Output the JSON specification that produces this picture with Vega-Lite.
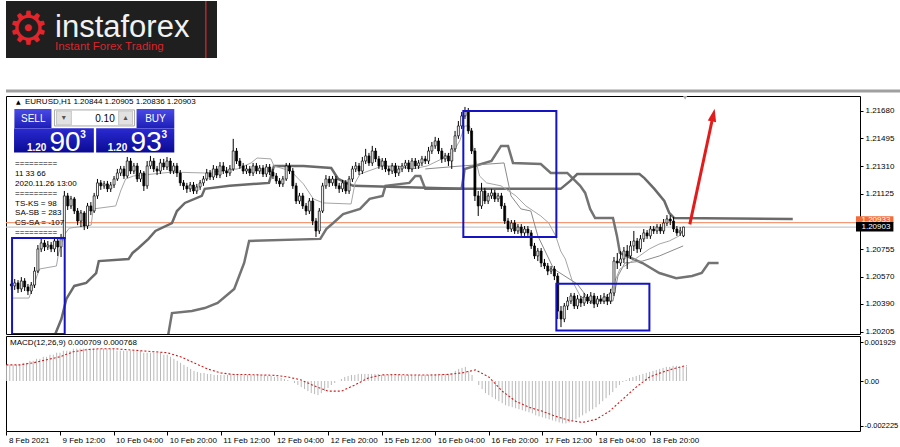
{
"$schema":"https://vega.github.io/schema/vega-lite/v6.json",
"padding":{"left":4,"top":0,"right":0,"bottom":0},
"background":"white",
"spacing":2,
"bounds":"flush",
"config":{"font":"Liberation Sans","view":{"stroke":"black","strokeWidth":1},"axis":{"grid":false,"domain":false,"labelFont":"Liberation Sans","labelFontSize":8,"labelColor":"black","tickColor":"black","labelOverlap":false,"labelFlush":false,"labelBound":false}},
"datasets":{
"candles":[
{"i":-16,"o":1.20523,"h":1.20549,"l":1.20483,"c":1.20510},
{"i":-15,"o":1.20510,"h":1.20556,"l":1.20483,"c":1.20530},
{"i":-14,"o":1.20530,"h":1.20549,"l":1.20463,"c":1.20490},
{"i":-13,"o":1.20490,"h":1.20569,"l":1.20469,"c":1.20543},
{"i":-12,"o":1.20543,"h":1.20562,"l":1.20476,"c":1.20503},
{"i":-11,"o":1.20503,"h":1.20523,"l":1.20449,"c":1.20476},
{"i":-10,"o":1.20476,"h":1.20536,"l":1.20456,"c":1.20516},
{"i":-9,"o":1.20516,"h":1.20636,"l":1.20496,"c":1.20609},
{"i":-8,"o":1.20609,"h":1.20783,"l":1.20596,"c":1.20757},
{"i":-7,"o":1.20757,"h":1.20824,"l":1.20736,"c":1.20797},
{"i":-6,"o":1.20797,"h":1.20817,"l":1.20743,"c":1.20770},
{"i":-5,"o":1.20770,"h":1.20810,"l":1.20750,"c":1.20783},
{"i":-4,"o":1.20783,"h":1.20803,"l":1.20736,"c":1.20757},
{"i":-3,"o":1.20757,"h":1.20837,"l":1.20736,"c":1.20810},
{"i":-2,"o":1.20810,"h":1.20830,"l":1.20710,"c":1.20770},
{"i":-1,"o":1.20770,"h":1.20857,"l":1.20703,"c":1.20824},
{"i":0,"o":1.20824,"h":1.21144,"l":1.20810,"c":1.21111},
{"i":1,"o":1.21111,"h":1.21131,"l":1.21017,"c":1.21044},
{"i":2,"o":1.21044,"h":1.21111,"l":1.21024,"c":1.21091},
{"i":3,"o":1.21091,"h":1.21104,"l":1.20990,"c":1.21010},
{"i":4,"o":1.21010,"h":1.21030,"l":1.20916,"c":1.20943},
{"i":5,"o":1.20943,"h":1.21017,"l":1.20903,"c":1.20997},
{"i":6,"o":1.20997,"h":1.21010,"l":1.20883,"c":1.20910},
{"i":7,"o":1.20910,"h":1.21064,"l":1.20890,"c":1.21044},
{"i":8,"o":1.21044,"h":1.21070,"l":1.20983,"c":1.21010},
{"i":9,"o":1.21010,"h":1.21131,"l":1.20997,"c":1.21111},
{"i":10,"o":1.21111,"h":1.21224,"l":1.21091,"c":1.21198},
{"i":11,"o":1.21198,"h":1.21217,"l":1.21151,"c":1.21178},
{"i":12,"o":1.21178,"h":1.21211,"l":1.21158,"c":1.21191},
{"i":13,"o":1.21191,"h":1.21211,"l":1.21137,"c":1.21158},
{"i":14,"o":1.21158,"h":1.21204,"l":1.21137,"c":1.21184},
{"i":15,"o":1.21184,"h":1.21244,"l":1.21164,"c":1.21224},
{"i":16,"o":1.21224,"h":1.21291,"l":1.21211,"c":1.21264},
{"i":17,"o":1.21264,"h":1.21311,"l":1.21244,"c":1.21291},
{"i":18,"o":1.21291,"h":1.21311,"l":1.21224,"c":1.21244},
{"i":19,"o":1.21244,"h":1.21371,"l":1.21230,"c":1.21344},
{"i":20,"o":1.21344,"h":1.21364,"l":1.21257,"c":1.21277},
{"i":21,"o":1.21277,"h":1.21331,"l":1.21257,"c":1.21311},
{"i":22,"o":1.21311,"h":1.21331,"l":1.21204,"c":1.21224},
{"i":23,"o":1.21224,"h":1.21284,"l":1.21204,"c":1.21264},
{"i":24,"o":1.21264,"h":1.21277,"l":1.21144,"c":1.21178},
{"i":25,"o":1.21178,"h":1.21344,"l":1.21158,"c":1.21311},
{"i":26,"o":1.21311,"h":1.21378,"l":1.21291,"c":1.21344},
{"i":27,"o":1.21344,"h":1.21364,"l":1.21270,"c":1.21291},
{"i":28,"o":1.21291,"h":1.21311,"l":1.21250,"c":1.21277},
{"i":29,"o":1.21277,"h":1.21358,"l":1.21257,"c":1.21331},
{"i":30,"o":1.21331,"h":1.21358,"l":1.21284,"c":1.21304},
{"i":31,"o":1.21304,"h":1.21371,"l":1.21284,"c":1.21344},
{"i":32,"o":1.21344,"h":1.21364,"l":1.21257,"c":1.21277},
{"i":33,"o":1.21277,"h":1.21331,"l":1.21257,"c":1.21311},
{"i":34,"o":1.21311,"h":1.21331,"l":1.21237,"c":1.21264},
{"i":35,"o":1.21264,"h":1.21284,"l":1.21178,"c":1.21198},
{"i":36,"o":1.21198,"h":1.21217,"l":1.21151,"c":1.21178},
{"i":37,"o":1.21178,"h":1.21198,"l":1.21131,"c":1.21158},
{"i":38,"o":1.21158,"h":1.21204,"l":1.21137,"c":1.21184},
{"i":39,"o":1.21184,"h":1.21204,"l":1.21124,"c":1.21144},
{"i":40,"o":1.21144,"h":1.21191,"l":1.21124,"c":1.21171},
{"i":41,"o":1.21171,"h":1.21217,"l":1.21151,"c":1.21198},
{"i":42,"o":1.21198,"h":1.21244,"l":1.21178,"c":1.21224},
{"i":43,"o":1.21224,"h":1.21291,"l":1.21211,"c":1.21264},
{"i":44,"o":1.21264,"h":1.21284,"l":1.21217,"c":1.21237},
{"i":45,"o":1.21237,"h":1.21317,"l":1.21217,"c":1.21291},
{"i":46,"o":1.21291,"h":1.21311,"l":1.21230,"c":1.21250},
{"i":47,"o":1.21250,"h":1.21337,"l":1.21230,"c":1.21311},
{"i":48,"o":1.21311,"h":1.21337,"l":1.21257,"c":1.21277},
{"i":49,"o":1.21277,"h":1.21304,"l":1.21237,"c":1.21264},
{"i":50,"o":1.21264,"h":1.21317,"l":1.21244,"c":1.21291},
{"i":51,"o":1.21291,"h":1.21492,"l":1.21277,"c":1.21411},
{"i":52,"o":1.21411,"h":1.21431,"l":1.21324,"c":1.21344},
{"i":53,"o":1.21344,"h":1.21364,"l":1.21291,"c":1.21311},
{"i":54,"o":1.21311,"h":1.21331,"l":1.21257,"c":1.21277},
{"i":55,"o":1.21277,"h":1.21317,"l":1.21257,"c":1.21291},
{"i":56,"o":1.21291,"h":1.21311,"l":1.21244,"c":1.21264},
{"i":57,"o":1.21264,"h":1.21331,"l":1.21244,"c":1.21311},
{"i":58,"o":1.21311,"h":1.21331,"l":1.21257,"c":1.21277},
{"i":59,"o":1.21277,"h":1.21317,"l":1.21257,"c":1.21297},
{"i":60,"o":1.21297,"h":1.21317,"l":1.21237,"c":1.21257},
{"i":61,"o":1.21257,"h":1.21324,"l":1.21237,"c":1.21304},
{"i":62,"o":1.21304,"h":1.21324,"l":1.21250,"c":1.21270},
{"i":63,"o":1.21270,"h":1.21291,"l":1.21224,"c":1.21244},
{"i":64,"o":1.21244,"h":1.21264,"l":1.21191,"c":1.21211},
{"i":65,"o":1.21211,"h":1.21230,"l":1.21171,"c":1.21191},
{"i":66,"o":1.21191,"h":1.21244,"l":1.21171,"c":1.21224},
{"i":67,"o":1.21224,"h":1.21331,"l":1.21211,"c":1.21311},
{"i":68,"o":1.21311,"h":1.21331,"l":1.21257,"c":1.21277},
{"i":69,"o":1.21277,"h":1.21297,"l":1.21158,"c":1.21178},
{"i":70,"o":1.21178,"h":1.21198,"l":1.21057,"c":1.21077},
{"i":71,"o":1.21077,"h":1.21131,"l":1.21057,"c":1.21111},
{"i":72,"o":1.21111,"h":1.21131,"l":1.21024,"c":1.21044},
{"i":73,"o":1.21044,"h":1.21064,"l":1.20983,"c":1.21010},
{"i":74,"o":1.21010,"h":1.21097,"l":1.20990,"c":1.21077},
{"i":75,"o":1.21077,"h":1.21097,"l":1.20916,"c":1.20943},
{"i":76,"o":1.20943,"h":1.20963,"l":1.20837,"c":1.20877},
{"i":77,"o":1.20877,"h":1.21030,"l":1.20857,"c":1.21010},
{"i":78,"o":1.21010,"h":1.21198,"l":1.20997,"c":1.21178},
{"i":79,"o":1.21178,"h":1.21250,"l":1.21158,"c":1.21224},
{"i":80,"o":1.21224,"h":1.21244,"l":1.21171,"c":1.21198},
{"i":81,"o":1.21198,"h":1.21244,"l":1.21178,"c":1.21224},
{"i":82,"o":1.21224,"h":1.21244,"l":1.21158,"c":1.21178},
{"i":83,"o":1.21178,"h":1.21198,"l":1.21131,"c":1.21158},
{"i":84,"o":1.21158,"h":1.21217,"l":1.21137,"c":1.21198},
{"i":85,"o":1.21198,"h":1.21217,"l":1.21124,"c":1.21144},
{"i":86,"o":1.21144,"h":1.21244,"l":1.21124,"c":1.21224},
{"i":87,"o":1.21224,"h":1.21311,"l":1.21204,"c":1.21291},
{"i":88,"o":1.21291,"h":1.21337,"l":1.21270,"c":1.21311},
{"i":89,"o":1.21311,"h":1.21331,"l":1.21250,"c":1.21277},
{"i":90,"o":1.21277,"h":1.21371,"l":1.21257,"c":1.21344},
{"i":91,"o":1.21344,"h":1.21425,"l":1.21324,"c":1.21378},
{"i":92,"o":1.21378,"h":1.21398,"l":1.21311,"c":1.21331},
{"i":93,"o":1.21331,"h":1.21445,"l":1.21311,"c":1.21411},
{"i":94,"o":1.21411,"h":1.21431,"l":1.21337,"c":1.21358},
{"i":95,"o":1.21358,"h":1.21378,"l":1.21291,"c":1.21311},
{"i":96,"o":1.21311,"h":1.21364,"l":1.21284,"c":1.21344},
{"i":97,"o":1.21344,"h":1.21364,"l":1.21270,"c":1.21291},
{"i":98,"o":1.21291,"h":1.21311,"l":1.21250,"c":1.21277},
{"i":99,"o":1.21277,"h":1.21331,"l":1.21257,"c":1.21311},
{"i":100,"o":1.21311,"h":1.21331,"l":1.21237,"c":1.21264},
{"i":101,"o":1.21264,"h":1.21311,"l":1.21244,"c":1.21291},
{"i":102,"o":1.21291,"h":1.21331,"l":1.21270,"c":1.21311},
{"i":103,"o":1.21311,"h":1.21351,"l":1.21291,"c":1.21331},
{"i":104,"o":1.21331,"h":1.21351,"l":1.21270,"c":1.21291},
{"i":105,"o":1.21291,"h":1.21364,"l":1.21270,"c":1.21344},
{"i":106,"o":1.21344,"h":1.21364,"l":1.21291,"c":1.21311},
{"i":107,"o":1.21311,"h":1.21351,"l":1.21291,"c":1.21331},
{"i":108,"o":1.21331,"h":1.21378,"l":1.21311,"c":1.21358},
{"i":109,"o":1.21358,"h":1.21378,"l":1.21324,"c":1.21344},
{"i":110,"o":1.21344,"h":1.21438,"l":1.21324,"c":1.21411},
{"i":111,"o":1.21411,"h":1.21471,"l":1.21391,"c":1.21445},
{"i":112,"o":1.21445,"h":1.21505,"l":1.21425,"c":1.21478},
{"i":113,"o":1.21478,"h":1.21498,"l":1.21391,"c":1.21411},
{"i":114,"o":1.21411,"h":1.21431,"l":1.21331,"c":1.21358},
{"i":115,"o":1.21358,"h":1.21398,"l":1.21337,"c":1.21378},
{"i":116,"o":1.21378,"h":1.21398,"l":1.21311,"c":1.21344},
{"i":117,"o":1.21344,"h":1.21451,"l":1.21291,"c":1.21425},
{"i":118,"o":1.21425,"h":1.21545,"l":1.21404,"c":1.21512},
{"i":119,"o":1.21512,"h":1.21611,"l":1.21492,"c":1.21578},
{"i":120,"o":1.21578,"h":1.21671,"l":1.21558,"c":1.21645},
{"i":121,"o":1.21645,"h":1.21705,"l":1.21625,"c":1.21678},
{"i":122,"o":1.21678,"h":1.21698,"l":1.21525,"c":1.21545},
{"i":123,"o":1.21545,"h":1.21564,"l":1.21391,"c":1.21411},
{"i":124,"o":1.21411,"h":1.21431,"l":1.21077,"c":1.21111},
{"i":125,"o":1.21111,"h":1.21144,"l":1.20977,"c":1.21044},
{"i":126,"o":1.21044,"h":1.21198,"l":1.21024,"c":1.21144},
{"i":127,"o":1.21144,"h":1.21164,"l":1.21057,"c":1.21077},
{"i":128,"o":1.21077,"h":1.21131,"l":1.21057,"c":1.21111},
{"i":129,"o":1.21111,"h":1.21158,"l":1.21091,"c":1.21131},
{"i":130,"o":1.21131,"h":1.21151,"l":1.21070,"c":1.21091},
{"i":131,"o":1.21091,"h":1.21131,"l":1.21070,"c":1.21111},
{"i":132,"o":1.21111,"h":1.21131,"l":1.21024,"c":1.21044},
{"i":133,"o":1.21044,"h":1.21064,"l":1.20923,"c":1.20943},
{"i":134,"o":1.20943,"h":1.20963,"l":1.20870,"c":1.20890},
{"i":135,"o":1.20890,"h":1.20950,"l":1.20870,"c":1.20930},
{"i":136,"o":1.20930,"h":1.20950,"l":1.20857,"c":1.20877},
{"i":137,"o":1.20877,"h":1.20923,"l":1.20857,"c":1.20903},
{"i":138,"o":1.20903,"h":1.20923,"l":1.20844,"c":1.20864},
{"i":139,"o":1.20864,"h":1.20910,"l":1.20844,"c":1.20890},
{"i":140,"o":1.20890,"h":1.20910,"l":1.20844,"c":1.20864},
{"i":141,"o":1.20864,"h":1.20883,"l":1.20757,"c":1.20777},
{"i":142,"o":1.20777,"h":1.20797,"l":1.20690,"c":1.20710},
{"i":143,"o":1.20710,"h":1.20763,"l":1.20676,"c":1.20743},
{"i":144,"o":1.20743,"h":1.20763,"l":1.20636,"c":1.20663},
{"i":145,"o":1.20663,"h":1.20690,"l":1.20623,"c":1.20643},
{"i":146,"o":1.20643,"h":1.20663,"l":1.20582,"c":1.20609},
{"i":147,"o":1.20609,"h":1.20643,"l":1.20589,"c":1.20623},
{"i":148,"o":1.20623,"h":1.20643,"l":1.20549,"c":1.20576},
{"i":149,"o":1.20576,"h":1.20596,"l":1.20289,"c":1.20342},
{"i":150,"o":1.20342,"h":1.20376,"l":1.20235,"c":1.20289},
{"i":151,"o":1.20289,"h":1.20396,"l":1.20268,"c":1.20376},
{"i":152,"o":1.20376,"h":1.20436,"l":1.20349,"c":1.20409},
{"i":153,"o":1.20409,"h":1.20463,"l":1.20389,"c":1.20443},
{"i":154,"o":1.20443,"h":1.20463,"l":1.20356,"c":1.20376},
{"i":155,"o":1.20376,"h":1.20449,"l":1.20356,"c":1.20423},
{"i":156,"o":1.20423,"h":1.20443,"l":1.20369,"c":1.20396},
{"i":157,"o":1.20396,"h":1.20463,"l":1.20376,"c":1.20436},
{"i":158,"o":1.20436,"h":1.20456,"l":1.20389,"c":1.20409},
{"i":159,"o":1.20409,"h":1.20469,"l":1.20389,"c":1.20443},
{"i":160,"o":1.20443,"h":1.20463,"l":1.20362,"c":1.20389},
{"i":161,"o":1.20389,"h":1.20443,"l":1.20369,"c":1.20423},
{"i":162,"o":1.20423,"h":1.20449,"l":1.20389,"c":1.20409},
{"i":163,"o":1.20409,"h":1.20463,"l":1.20389,"c":1.20436},
{"i":164,"o":1.20436,"h":1.20456,"l":1.20382,"c":1.20409},
{"i":165,"o":1.20409,"h":1.20490,"l":1.20389,"c":1.20463},
{"i":166,"o":1.20463,"h":1.20703,"l":1.20443,"c":1.20676},
{"i":167,"o":1.20676,"h":1.20730,"l":1.20623,"c":1.20663},
{"i":168,"o":1.20663,"h":1.20743,"l":1.20643,"c":1.20690},
{"i":169,"o":1.20690,"h":1.20770,"l":1.20663,"c":1.20743},
{"i":170,"o":1.20743,"h":1.20783,"l":1.20623,"c":1.20710},
{"i":171,"o":1.20710,"h":1.20810,"l":1.20690,"c":1.20777},
{"i":172,"o":1.20777,"h":1.20877,"l":1.20743,"c":1.20810},
{"i":173,"o":1.20810,"h":1.20830,"l":1.20730,"c":1.20757},
{"i":174,"o":1.20757,"h":1.20850,"l":1.20736,"c":1.20824},
{"i":175,"o":1.20824,"h":1.20890,"l":1.20803,"c":1.20864},
{"i":176,"o":1.20864,"h":1.20883,"l":1.20824,"c":1.20844},
{"i":177,"o":1.20844,"h":1.20910,"l":1.20824,"c":1.20890},
{"i":178,"o":1.20890,"h":1.20910,"l":1.20857,"c":1.20877},
{"i":179,"o":1.20877,"h":1.20923,"l":1.20857,"c":1.20903},
{"i":180,"o":1.20903,"h":1.20923,"l":1.20857,"c":1.20877},
{"i":181,"o":1.20877,"h":1.20957,"l":1.20857,"c":1.20930},
{"i":182,"o":1.20930,"h":1.20983,"l":1.20910,"c":1.20957},
{"i":183,"o":1.20957,"h":1.20983,"l":1.20916,"c":1.20943},
{"i":184,"o":1.20943,"h":1.20970,"l":1.20870,"c":1.20890},
{"i":185,"o":1.20890,"h":1.20910,"l":1.20844,"c":1.20864},
{"i":186,"o":1.20864,"h":1.20903,"l":1.20844,"c":1.20877},
{"i":187,"o":1.20844,"h":1.20905,"l":1.20836,"c":1.20903}
],
"lines":[
{"s":"tenkan","i":-15.8,"p":1.20429},{"s":"tenkan","i":-10.7,"p":1.20429},{"s":"tenkan","i":-7.5,"p":1.20623},{"s":"tenkan","i":-2.4,"p":1.20643},{"s":"tenkan","i":-1.8,"p":1.20723},{"s":"tenkan","i":-0.3,"p":1.20844},{"s":"tenkan","i":1.5,"p":1.20896},{"s":"tenkan","i":8.1,"p":1.20916},{"s":"tenkan","i":8.7,"p":1.21024},{"s":"tenkan","i":15.5,"p":1.21044},{"s":"tenkan","i":17.0,"p":1.21144},{"s":"tenkan","i":18.5,"p":1.21224},{"s":"tenkan","i":20.9,"p":1.21244},{"s":"tenkan","i":32.5,"p":1.21270},{"s":"tenkan","i":42.4,"p":1.21264},{"s":"tenkan","i":52.2,"p":1.21291},{"s":"tenkan","i":56.4,"p":1.21331},{"s":"tenkan","i":58.2,"p":1.21364},{"s":"tenkan","i":62.4,"p":1.21358},{"s":"tenkan","i":63.3,"p":1.21311},{"s":"tenkan","i":68.4,"p":1.21277},{"s":"tenkan","i":72.2,"p":1.21191},{"s":"tenkan","i":75.2,"p":1.21091},{"s":"tenkan","i":78.2,"p":1.21064},{"s":"tenkan","i":86.6,"p":1.21057},{"s":"tenkan","i":87.8,"p":1.21198},{"s":"tenkan","i":89.3,"p":1.21257},{"s":"tenkan","i":96.1,"p":1.21311},{"s":"tenkan","i":100.6,"p":1.21311},{"s":"tenkan","i":105.1,"p":1.21291},{"s":"tenkan","i":109.6,"p":1.21311},{"s":"tenkan","i":114.0,"p":1.21358},{"s":"tenkan","i":117.6,"p":1.21411},{"s":"tenkan","i":119.4,"p":1.21478},{"s":"tenkan","i":120.9,"p":1.21578},{"s":"tenkan","i":122.4,"p":1.21578},{"s":"tenkan","i":123.6,"p":1.21411},{"s":"tenkan","i":125.4,"p":1.21244},{"s":"tenkan","i":127.5,"p":1.21198},{"s":"tenkan","i":131.9,"p":1.21178},{"s":"tenkan","i":136.4,"p":1.21111},{"s":"tenkan","i":139.4,"p":1.21044},{"s":"tenkan","i":143.9,"p":1.20977},{"s":"tenkan","i":146.3,"p":1.20930},{"s":"tenkan","i":148.4,"p":1.20844},{"s":"tenkan","i":149.9,"p":1.20743},{"s":"tenkan","i":151.3,"p":1.20690},{"s":"tenkan","i":153.4,"p":1.20543},{"s":"tenkan","i":155.8,"p":1.20443},{"s":"tenkan","i":158.8,"p":1.20396},{"s":"tenkan","i":161.8,"p":1.20409},{"s":"tenkan","i":164.8,"p":1.20463},{"s":"tenkan","i":166.3,"p":1.20543},{"s":"tenkan","i":167.8,"p":1.20623},{"s":"tenkan","i":170.7,"p":1.20663},{"s":"tenkan","i":173.7,"p":1.20710},{"s":"tenkan","i":176.7,"p":1.20757},{"s":"tenkan","i":179.7,"p":1.20790},{"s":"tenkan","i":182.7,"p":1.20810},{"s":"tenkan","i":185.7,"p":1.20844},{"s":"tenkan","i":186.9,"p":1.20877},
{"s":"kijun","i":109.0,"p":1.21291},{"s":"kijun","i":120.0,"p":1.21311},{"s":"kijun","i":132.8,"p":1.21331},{"s":"kijun","i":134.9,"p":1.21111},{"s":"kijun","i":137.9,"p":1.21024},{"s":"kijun","i":140.9,"p":1.21010},{"s":"kijun","i":143.0,"p":1.20844},{"s":"kijun","i":147.8,"p":1.20623},{"s":"kijun","i":154.9,"p":1.20523},{"s":"kijun","i":158.8,"p":1.20409},{"s":"kijun","i":165.7,"p":1.20409},{"s":"kijun","i":167.2,"p":1.20576},{"s":"kijun","i":169.3,"p":1.20663},{"s":"kijun","i":174.6,"p":1.20676},{"s":"kijun","i":179.7,"p":1.20710},{"s":"kijun","i":186.9,"p":1.20777},
{"s":"spanB","i":-3.0,"p":1.20175},{"s":"spanB","i":-0.9,"p":1.20289},{"s":"spanB","i":0.6,"p":1.20423},{"s":"spanB","i":3.0,"p":1.20510},{"s":"spanB","i":6.6,"p":1.20530},{"s":"spanB","i":9.6,"p":1.20596},{"s":"spanB","i":10.4,"p":1.20676},{"s":"spanB","i":19.4,"p":1.20690},{"s":"spanB","i":20.6,"p":1.20730},{"s":"spanB","i":22.4,"p":1.20763},{"s":"spanB","i":25.4,"p":1.20824},{"s":"spanB","i":27.5,"p":1.20877},{"s":"spanB","i":32.5,"p":1.20930},{"s":"spanB","i":34.0,"p":1.21010},{"s":"spanB","i":36.4,"p":1.21064},{"s":"spanB","i":41.5,"p":1.21111},{"s":"spanB","i":42.4,"p":1.21158},{"s":"spanB","i":49.9,"p":1.21178},{"s":"spanB","i":61.8,"p":1.21198},{"s":"spanB","i":63.3,"p":1.21311},{"s":"spanB","i":72.2,"p":1.21311},{"s":"spanB","i":80.6,"p":1.21297},{"s":"spanB","i":82.7,"p":1.21224},{"s":"spanB","i":87.2,"p":1.21178},{"s":"spanB","i":120.0,"p":1.21158},{"s":"spanB","i":149.9,"p":1.21158},{"s":"spanB","i":152.8,"p":1.21211},{"s":"spanB","i":154.9,"p":1.21257},{"s":"spanB","i":173.7,"p":1.21257},{"s":"spanB","i":175.2,"p":1.21230},{"s":"spanB","i":178.2,"p":1.21158},{"s":"spanB","i":181.2,"p":1.21077},{"s":"spanB","i":182.7,"p":1.20997},{"s":"spanB","i":184.2,"p":1.20963},{"s":"spanB","i":220.0,"p":1.20957},
{"s":"spanA","i":31.3,"p":1.20175},{"s":"spanA","i":32.5,"p":1.20329},{"s":"spanA","i":38.5,"p":1.20342},{"s":"spanA","i":42.4,"p":1.20362},{"s":"spanA","i":46.3,"p":1.20396},{"s":"spanA","i":51.3,"p":1.20490},{"s":"spanA","i":54.3,"p":1.20663},{"s":"spanA","i":55.8,"p":1.20810},{"s":"spanA","i":77.3,"p":1.20824},{"s":"spanA","i":79.1,"p":1.20890},{"s":"spanA","i":81.2,"p":1.20930},{"s":"spanA","i":84.2,"p":1.20990},{"s":"spanA","i":89.3,"p":1.21024},{"s":"spanA","i":92.2,"p":1.21091},{"s":"spanA","i":96.1,"p":1.21111},{"s":"spanA","i":97.0,"p":1.21178},{"s":"spanA","i":104.2,"p":1.21198},{"s":"spanA","i":106.0,"p":1.21244},{"s":"spanA","i":107.5,"p":1.21244},{"s":"spanA","i":109.0,"p":1.21158},{"s":"spanA","i":120.0,"p":1.21158},{"s":"spanA","i":120.9,"p":1.21291},{"s":"spanA","i":129.0,"p":1.21344},{"s":"spanA","i":131.9,"p":1.21445},{"s":"spanA","i":134.0,"p":1.21445},{"s":"spanA","i":135.5,"p":1.21331},{"s":"spanA","i":143.9,"p":1.21324},{"s":"spanA","i":146.9,"p":1.21264},{"s":"spanA","i":151.9,"p":1.21264},{"s":"spanA","i":153.7,"p":1.21224},{"s":"spanA","i":155.8,"p":1.21178},{"s":"spanA","i":157.3,"p":1.21131},{"s":"spanA","i":158.8,"p":1.21024},{"s":"spanA","i":160.3,"p":1.20963},{"s":"spanA","i":165.7,"p":1.20963},{"s":"spanA","i":166.9,"p":1.20844},{"s":"spanA","i":167.8,"p":1.20730},{"s":"spanA","i":174.6,"p":1.20663},{"s":"spanA","i":179.7,"p":1.20596},{"s":"spanA","i":184.8,"p":1.20562},{"s":"spanA","i":189.6,"p":1.20576},{"s":"spanA","i":192.5,"p":1.20596},{"s":"spanA","i":194.6,"p":1.20663},{"s":"spanA","i":197.6,"p":1.20663}
],
"boxes":[
{"i1":-15.8,"i2":0.1,"p1":1.20830,"p2":1.20189},
{"i1":120.5,"i2":148.6,"p1":1.21678,"p2":1.20837},
{"i1":148.6,"i2":176.7,"p1":1.20525,"p2":1.20213}
],
"macd":[
{"i":-16,"m":0.0008},{"i":-15,"m":0.0008},{"i":-14,"m":0.0008},{"i":-13,"m":0.0008},{"i":-12,"m":0.0008},{"i":-11,"m":0.0009},{"i":-10,"m":0.0009},{"i":-9,"m":0.0010},{"i":-8,"m":0.0010},{"i":-7,"m":0.0011},{"i":-6,"m":0.0011},{"i":-5,"m":0.0012},{"i":-4,"m":0.0012},{"i":-3,"m":0.0013},{"i":-2,"m":0.0013},{"i":-1,"m":0.0014},
{"i":0,"m":0.0014},{"i":1,"m":0.0015},{"i":2,"m":0.0015},{"i":3,"m":0.0015},{"i":4,"m":0.0016},{"i":5,"m":0.0016},{"i":6,"m":0.0016},{"i":7,"m":0.0016},{"i":8,"m":0.0016},{"i":9,"m":0.0016},{"i":10,"m":0.0016},{"i":11,"m":0.0016},{"i":12,"m":0.0016},{"i":13,"m":0.0016},{"i":14,"m":0.0016},{"i":15,"m":0.0016},{"i":16,"m":0.0016},{"i":17,"m":0.0015},{"i":18,"m":0.0015},{"i":19,"m":0.0015},{"i":20,"m":0.0015},{"i":21,"m":0.0015},{"i":22,"m":0.0015},{"i":23,"m":0.0015},{"i":24,"m":0.0015},{"i":25,"m":0.0014},{"i":26,"m":0.0014},{"i":27,"m":0.0014},{"i":28,"m":0.0014},{"i":29,"m":0.0014},{"i":30,"m":0.0014},
{"i":31,"m":0.0013},{"i":32,"m":0.0013},{"i":33,"m":0.0012},{"i":34,"m":0.0011},{"i":35,"m":0.0010},{"i":36,"m":0.0009},{"i":37,"m":0.0008},{"i":38,"m":0.0007},{"i":39,"m":0.0006},{"i":40,"m":0.0005},
{"i":41,"m":0.00045},{"i":42,"m":0.0004},{"i":43,"m":0.0004},{"i":44,"m":0.00035},{"i":45,"m":0.00035},{"i":46,"m":0.0003},{"i":47,"m":0.0003},{"i":48,"m":0.0003},{"i":49,"m":0.0003},{"i":50,"m":0.0003},{"i":51,"m":0.00035},{"i":52,"m":0.00035},{"i":53,"m":0.00035},{"i":54,"m":0.0003},{"i":55,"m":0.0003},{"i":56,"m":0.0003},{"i":57,"m":0.0003},{"i":58,"m":0.0003},{"i":59,"m":0.0003},{"i":60,"m":0.0003},{"i":61,"m":0.0003},{"i":62,"m":0.00025},{"i":63,"m":0.00025},{"i":64,"m":0.0002},{"i":65,"m":0.0002},{"i":66,"m":0.00015},
{"i":67,"m":0.0001},{"i":68,"m":0.00005},{"i":69,"m":0.0},{"i":70,"m":-0.0001},{"i":71,"m":-0.0002},{"i":72,"m":-0.0003},{"i":73,"m":-0.0004},{"i":74,"m":-0.0005},{"i":75,"m":-0.0006},{"i":76,"m":-0.00065},{"i":77,"m":-0.0007},{"i":78,"m":-0.0006},{"i":79,"m":-0.0005},{"i":80,"m":-0.00035},
{"i":81,"m":-0.0002},{"i":82,"m":-0.0001},{"i":83,"m":0.0},{"i":84,"m":0.0001},{"i":85,"m":0.0002},{"i":86,"m":0.00025},{"i":87,"m":0.0003},{"i":88,"m":0.0003},
{"i":89,"m":0.00035},{"i":90,"m":0.00035},{"i":91,"m":0.00035},{"i":92,"m":0.00035},{"i":93,"m":0.00035},{"i":94,"m":0.00035},{"i":95,"m":0.00035},{"i":96,"m":0.0003},{"i":97,"m":0.0003},{"i":98,"m":0.0003},{"i":99,"m":0.0003},{"i":100,"m":0.0003},{"i":101,"m":0.0003},{"i":102,"m":0.0003},{"i":103,"m":0.0003},{"i":104,"m":0.0003},{"i":105,"m":0.0003},{"i":106,"m":0.0003},{"i":107,"m":0.0003},{"i":108,"m":0.0003},{"i":109,"m":0.0003},{"i":110,"m":0.0003},{"i":111,"m":0.00035},{"i":112,"m":0.00035},{"i":113,"m":0.00035},{"i":114,"m":0.00035},{"i":115,"m":0.00035},{"i":116,"m":0.00035},{"i":117,"m":0.0004},{"i":118,"m":0.0005},
{"i":119,"m":0.0006},{"i":120,"m":0.00065},{"i":121,"m":0.0007},{"i":122,"m":0.0005},{"i":123,"m":0.0003},{"i":124,"m":0.0},
{"i":125,"m":-0.0002},{"i":126,"m":-0.0004},{"i":127,"m":-0.0006},{"i":128,"m":-0.0007},{"i":129,"m":-0.0008},{"i":130,"m":-0.0009},{"i":131,"m":-0.0010},{"i":132,"m":-0.0011},{"i":133,"m":-0.0012},{"i":134,"m":-0.00125},{"i":135,"m":-0.0013},{"i":136,"m":-0.00135},{"i":137,"m":-0.0014},{"i":138,"m":-0.00145},{"i":139,"m":-0.0015},{"i":140,"m":-0.00155},{"i":141,"m":-0.0016},{"i":142,"m":-0.0017},{"i":143,"m":-0.00175},{"i":144,"m":-0.0018},{"i":145,"m":-0.00185},{"i":146,"m":-0.0019},{"i":147,"m":-0.00195},{"i":148,"m":-0.0020},{"i":149,"m":-0.00205},{"i":150,"m":-0.0021},
{"i":151,"m":-0.0021},{"i":152,"m":-0.00205},{"i":153,"m":-0.0020},{"i":154,"m":-0.0019},{"i":155,"m":-0.0018},{"i":156,"m":-0.0017},{"i":157,"m":-0.0016},{"i":158,"m":-0.0015},{"i":159,"m":-0.0014},{"i":160,"m":-0.0013},{"i":161,"m":-0.00115},{"i":162,"m":-0.0010},{"i":163,"m":-0.00085},{"i":164,"m":-0.0007},{"i":165,"m":-0.00055},
{"i":166,"m":-0.00035},{"i":167,"m":-0.0002},{"i":168,"m":-0.00005},{"i":169,"m":0.00005},{"i":170,"m":0.00015},{"i":171,"m":0.0002},{"i":172,"m":0.00025},{"i":173,"m":0.0003},{"i":174,"m":0.00035},{"i":175,"m":0.0004},{"i":176,"m":0.00045},{"i":177,"m":0.0005},{"i":178,"m":0.00055},{"i":179,"m":0.0006},{"i":180,"m":0.00065},{"i":181,"m":0.0007},{"i":182,"m":0.0007},{"i":183,"m":0.00075},{"i":184,"m":0.00075},{"i":185,"m":0.0007},{"i":186,"m":0.0007},{"i":187,"m":0.000709}
],
"signal":[
{"i":-16,"s":0.0008},{"i":-12,"s":0.0008},{"i":-8,"s":0.0009},{"i":-4,"s":0.00105},{"i":0,"s":0.0012},{"i":4,"s":0.00145},{"i":8,"s":0.00155},{"i":12,"s":0.0016},{"i":16,"s":0.0016},{"i":20,"s":0.00155},{"i":24,"s":0.0015},{"i":28,"s":0.00145},{"i":32,"s":0.0014},{"i":36,"s":0.0012},{"i":40,"s":0.0009},{"i":44,"s":0.0006},{"i":48,"s":0.0004},{"i":52,"s":0.00032},{"i":56,"s":0.00032},{"i":60,"s":0.0003},{"i":64,"s":0.00028},{"i":68,"s":0.0002},{"i":72,"s":0.00005},{"i":76,"s":-0.00025},{"i":80,"s":-0.0005},{"i":84,"s":-0.0005},{"i":88,"s":-0.0002},{"i":92,"s":0.00015},{"i":96,"s":0.0003},{"i":100,"s":0.00032},{"i":104,"s":0.0003},{"i":108,"s":0.0003},{"i":112,"s":0.0003},{"i":116,"s":0.00033},{"i":120,"s":0.0004},{"i":124,"s":0.00055},{"i":128,"s":0.0002},{"i":132,"s":-0.0005},{"i":136,"s":-0.0010},{"i":140,"s":-0.0013},{"i":144,"s":-0.0015},{"i":148,"s":-0.00175},{"i":152,"s":-0.00195},{"i":156,"s":-0.00205},{"i":160,"s":-0.0019},{"i":164,"s":-0.0015},{"i":168,"s":-0.0009},{"i":172,"s":-0.0003},{"i":176,"s":0.0002},{"i":180,"s":0.00045},{"i":184,"s":0.00065},{"i":187,"s":0.000768}
]
},
"vconcat":[
{
"width":896,"height":93,
"view":{"stroke":null},
"data":{"values":[{}]},
"layer":[
{"mark":{"type":"rect","fill":"#1f1f1f"},"encoding":{"x":{"datum":0,"type":"quantitative","scale":{"domain":[0,100],"nice":false,"zero":false},"axis":null,"title":null},"x2":{"datum":23.55},"y":{"datum":0,"type":"quantitative","scale":{"domain":[0,100],"nice":false,"zero":false,"reverse":true},"axis":null,"title":null},"y2":{"datum":61.3}}},
{"mark":{"type":"rule","color":"#b8262c","strokeWidth":1.5},"encoding":{"x":{"datum":22.3,"type":"quantitative"},"y":{"datum":0,"type":"quantitative"},"y2":{"datum":61.3}}},
{"mark":{"type":"text","text":"⚙","font":"DejaVu Sans","fontSize":46,"color":"#e3242b","align":"center","baseline":"middle"},"encoding":{"x":{"datum":2.46,"type":"quantitative"},"y":{"datum":31,"type":"quantitative"}}},
{"mark":{"type":"text","text":"instaforex","font":"Liberation Sans","fontSize":31,"color":"#f2f2f2","align":"left","baseline":"alphabetic"},"encoding":{"x":{"datum":5.47,"type":"quantitative"},"y":{"datum":38.7,"type":"quantitative"}}},
{"mark":{"type":"text","text":"Instant Forex Trading","font":"Liberation Sans","fontSize":11.5,"color":"#d7262e","align":"left","baseline":"alphabetic"},"encoding":{"x":{"datum":5.47,"type":"quantitative"},"y":{"datum":53,"type":"quantitative"}}},
{"mark":{"type":"rect","fill":"#a0a0a0"},"encoding":{"x":{"datum":0,"type":"quantitative"},"x2":{"datum":100},"y":{"datum":95.2,"type":"quantitative"},"y2":{"datum":98.4}}}
]
},
{
"width":854,"height":238,
"data":{"values":[{}]},
"layer":[
{"mark":{"type":"rule","color":"#f39a74","strokeWidth":1.3},"encoding":{"y":{"datum":1.20933,"type":"quantitative","scale":{"domain":[1.20189,1.21778],"nice":false,"zero":false},"title":null,"axis":{"orient":"right","values":[1.2168,1.21495,1.2131,1.21125,1.20755,1.2057,1.2039,1.20205],"tickCount":30,"format":".5f","tickSize":3,"labelPadding":2,"labelOverlap":false,"labelFlush":false,"labelBound":false}}}},
{"mark":{"type":"rule","color":"#c8c8c8","strokeWidth":1.3},"encoding":{"y":{"datum":1.20903,"type":"quantitative","scale":{"domain":[1.20189,1.21778],"nice":false,"zero":false},"title":null}}},
{"data":{"name":"lines"},"transform":[{"filter":"datum.s=='spanA'"}],"mark":{"type":"line","color":"#737373","strokeWidth":2.5,"clip":true},"encoding":{"x":{"field":"i","type":"quantitative","scale":{"domain":[-16.12,238.8],"nice":false,"zero":false},"axis":null,"title":null},"y":{"field":"p","type":"quantitative","scale":{"domain":[1.20189,1.21778],"nice":false,"zero":false},"title":null}}},
{"data":{"name":"lines"},"transform":[{"filter":"datum.s=='spanB'"}],"mark":{"type":"line","color":"#6a6a6a","strokeWidth":2.5,"clip":true},"encoding":{"x":{"field":"i","type":"quantitative","scale":{"domain":[-16.12,238.8],"nice":false,"zero":false},"axis":null,"title":null},"y":{"field":"p","type":"quantitative","scale":{"domain":[1.20189,1.21778],"nice":false,"zero":false},"title":null}}},
{"data":{"name":"lines"},"transform":[{"filter":"datum.s=='kijun'"}],"mark":{"type":"line","color":"#8a8a8a","strokeWidth":1,"clip":true},"encoding":{"x":{"field":"i","type":"quantitative","scale":{"domain":[-16.12,238.8],"nice":false,"zero":false},"axis":null,"title":null},"y":{"field":"p","type":"quantitative","scale":{"domain":[1.20189,1.21778],"nice":false,"zero":false},"title":null}}},
{"data":{"name":"lines"},"transform":[{"filter":"datum.s=='tenkan'"}],"mark":{"type":"line","color":"#a6a6a6","strokeWidth":1,"clip":true},"encoding":{"x":{"field":"i","type":"quantitative","scale":{"domain":[-16.12,238.8],"nice":false,"zero":false},"axis":null,"title":null},"y":{"field":"p","type":"quantitative","scale":{"domain":[1.20189,1.21778],"nice":false,"zero":false},"title":null}}},
{"data":{"name":"candles"},"mark":{"type":"rule","color":"black","strokeWidth":1,"clip":true},"encoding":{"x":{"field":"i","type":"quantitative","scale":{"domain":[-16.12,238.8],"nice":false,"zero":false},"axis":null,"title":null},"y":{"field":"l","type":"quantitative","scale":{"domain":[1.20189,1.21778],"nice":false,"zero":false},"title":null},"y2":{"field":"h"}}},
{"data":{"name":"candles"},"mark":{"type":"bar","size":2,"stroke":"black","strokeWidth":0.7,"clip":true},"encoding":{"x":{"field":"i","type":"quantitative","scale":{"domain":[-16.12,238.8],"nice":false,"zero":false},"axis":null,"title":null},"y":{"field":"o","type":"quantitative","scale":{"domain":[1.20189,1.21778],"nice":false,"zero":false},"title":null},"y2":{"field":"c"},"fill":{"condition":{"test":"datum.c>=datum.o","value":"white"},"value":"black"}}},
{"data":{"name":"boxes"},"mark":{"type":"rect","fill":"white","fillOpacity":0,"stroke":"#1414c4","strokeWidth":2,"clip":true},"encoding":{"x":{"field":"i1","type":"quantitative","scale":{"domain":[-16.12,238.8],"nice":false,"zero":false},"axis":null,"title":null},"x2":{"field":"i2"},"y":{"field":"p1","type":"quantitative","scale":{"domain":[1.20189,1.21778],"nice":false,"zero":false},"title":null},"y2":{"field":"p2"}}},
{"mark":{"type":"rule","color":"#e41b1b","strokeWidth":3},"encoding":{"x":{"datum":188.9,"type":"quantitative"},"x2":{"datum":195.6},"y":{"datum":1.20921,"type":"quantitative"},"y2":{"datum":1.21611}}},
{"mark":{"type":"point","shape":"M0,-1L0.65,1L-0.65,1Z","size":170,"angle":12,"filled":true,"color":"#e41b1b","opacity":1},"encoding":{"x":{"datum":196.0,"type":"quantitative"},"y":{"datum":1.21651,"type":"quantitative"}}},
{"mark":{"type":"point","shape":"triangle-down","size":18,"filled":true,"color":"#b0b0b0","opacity":1},"encoding":{"x":{"datum":187.5,"type":"quantitative"},"y":{"datum":1.21765,"type":"quantitative"}}},
{"mark":{"type":"rect","fill":{"gradient":"linear","x1":0,"y1":0,"x2":0,"y2":1,"stops":[{"offset":0,"color":"#4a4ae6"},{"offset":1,"color":"#1e1eb8"}]}},"encoding":{"x":{"datum":-15.1,"type":"quantitative"},"x2":{"datum":-3.9},"y":{"datum":1.21692,"type":"quantitative"},"y2":{"datum":1.21564}}},
{"mark":{"type":"rect","fill":{"gradient":"linear","x1":0,"y1":0,"x2":0,"y2":1,"stops":[{"offset":0,"color":"#4a4ae6"},{"offset":1,"color":"#1e1eb8"}]}},"encoding":{"x":{"datum":21.8,"type":"quantitative"},"x2":{"datum":33.2},"y":{"datum":1.21692,"type":"quantitative"},"y2":{"datum":1.21564}}},
{"mark":{"type":"rect","fill":"white","stroke":"#a8a8a8","strokeWidth":1},"encoding":{"x":{"datum":-3.0,"type":"quantitative"},"x2":{"datum":21.2},"y":{"datum":1.21685,"type":"quantitative"},"y2":{"datum":1.21578}}},
{"mark":{"type":"rect","fill":"#e2e2e2","stroke":"#c4c4c4","strokeWidth":1},"encoding":{"x":{"datum":-2.4,"type":"quantitative"},"x2":{"datum":2.1},"y":{"datum":1.21678,"type":"quantitative"},"y2":{"datum":1.21585}}},
{"mark":{"type":"rect","fill":"#e2e2e2","stroke":"#c4c4c4","strokeWidth":1},"encoding":{"x":{"datum":16.4,"type":"quantitative"},"x2":{"datum":20.6},"y":{"datum":1.21678,"type":"quantitative"},"y2":{"datum":1.21585}}},
{"mark":{"type":"rect","fill":{"gradient":"linear","x1":0,"y1":0,"x2":0,"y2":1,"stops":[{"offset":0,"color":"#2a2ad2"},{"offset":1,"color":"#0a0a94"}]}},"encoding":{"x":{"datum":-15.2,"type":"quantitative"},"x2":{"datum":8.9},"y":{"datum":1.21563,"type":"quantitative"},"y2":{"datum":1.21400}}},
{"mark":{"type":"rect","fill":{"gradient":"linear","x1":0,"y1":0,"x2":0,"y2":1,"stops":[{"offset":0,"color":"#2a2ad2"},{"offset":1,"color":"#0a0a94"}]}},"encoding":{"x":{"datum":9.6,"type":"quantitative"},"x2":{"datum":33.2},"y":{"datum":1.21563,"type":"quantitative"},"y2":{"datum":1.21400}}},
{"mark":{"type":"text","text":"SELL","fontSize":10,"color":"white","align":"center","baseline":"middle"},"encoding":{"x":{"datum":-9.4,"type":"quantitative"},"y":{"datum":1.21625,"type":"quantitative"}}},
{"mark":{"type":"text","text":"BUY","fontSize":10,"color":"white","align":"center","baseline":"middle"},"encoding":{"x":{"datum":27.5,"type":"quantitative"},"y":{"datum":1.21625,"type":"quantitative"}}},
{"mark":{"type":"text","text":"0.10","fontSize":10,"color":"black","align":"right","baseline":"middle"},"encoding":{"x":{"datum":15.2,"type":"quantitative"},"y":{"datum":1.21625,"type":"quantitative"}}},
{"mark":{"type":"text","text":"▾","font":"DejaVu Sans","fontSize":8,"color":"#555555","align":"center","baseline":"middle"},"encoding":{"x":{"datum":-0.15,"type":"quantitative"},"y":{"datum":1.21632,"type":"quantitative"}}},
{"mark":{"type":"text","text":"▴","font":"DejaVu Sans","fontSize":8,"color":"#555555","align":"center","baseline":"middle"},"encoding":{"x":{"datum":18.5,"type":"quantitative"},"y":{"datum":1.21632,"type":"quantitative"}}},
{"mark":{"type":"text","text":"1.20","fontSize":10,"fontWeight":"bold","color":"white","align":"left","baseline":"alphabetic"},"encoding":{"x":{"datum":-11.3,"type":"quantitative"},"y":{"datum":1.21411,"type":"quantitative"}}},
{"mark":{"type":"text","text":"90","fontSize":28,"color":"white","align":"left","baseline":"alphabetic"},"encoding":{"x":{"datum":-4.5,"type":"quantitative"},"y":{"datum":1.21411,"type":"quantitative"}}},
{"mark":{"type":"text","text":"3","fontSize":10,"fontWeight":"bold","color":"white","align":"left","baseline":"alphabetic"},"encoding":{"x":{"datum":4.8,"type":"quantitative"},"y":{"datum":1.21498,"type":"quantitative"}}},
{"mark":{"type":"text","text":"1.20","fontSize":10,"fontWeight":"bold","color":"white","align":"left","baseline":"alphabetic"},"encoding":{"x":{"datum":13.1,"type":"quantitative"},"y":{"datum":1.21411,"type":"quantitative"}}},
{"mark":{"type":"text","text":"93","fontSize":28,"color":"white","align":"left","baseline":"alphabetic"},"encoding":{"x":{"datum":20.0,"type":"quantitative"},"y":{"datum":1.21411,"type":"quantitative"}}},
{"mark":{"type":"text","text":"3","fontSize":10,"fontWeight":"bold","color":"white","align":"left","baseline":"alphabetic"},"encoding":{"x":{"datum":29.3,"type":"quantitative"},"y":{"datum":1.21498,"type":"quantitative"}}},
{"mark":{"type":"text","text":"▲","font":"DejaVu Sans","fontSize":6,"color":"black","align":"center","baseline":"middle"},"encoding":{"x":{"datum":-13.9,"type":"quantitative"},"y":{"datum":1.21738,"type":"quantitative"}}},
{"mark":{"type":"text","text":"EURUSD,H1  1.20844 1.20905 1.20836 1.20903","fontSize":8,"color":"black","align":"left","baseline":"middle"},"encoding":{"x":{"datum":-11.9,"type":"quantitative"},"y":{"datum":1.21738,"type":"quantitative"}}},
{"mark":{"type":"text","text":["=========","11 33 66","2020.11.26 13:00","=========","TS-KS = 98","SA-SB = 283","CS-SA = -107","========="],"lineHeight":9.8,"fontSize":8,"color":"black","align":"left","baseline":"top"},"encoding":{"x":{"datum":-14.9,"type":"quantitative"},"y":{"datum":1.21348,"type":"quantitative"}}},
{"mark":{"type":"rect","fill":"#f26b3a"},"encoding":{"x":{"datum":239.1,"type":"quantitative"},"x2":{"datum":250.4},"y":{"datum":1.20975,"type":"quantitative"},"y2":{"datum":1.20930}}},
{"mark":{"type":"text","text":"1.20933","fontSize":8,"color":"white","align":"left","baseline":"middle"},"encoding":{"x":{"datum":240.75,"type":"quantitative"},"y":{"datum":1.20948,"type":"quantitative"}}},
{"mark":{"type":"rect","fill":"black"},"encoding":{"x":{"datum":239.1,"type":"quantitative"},"x2":{"datum":250.4},"y":{"datum":1.20937,"type":"quantitative"},"y2":{"datum":1.20873}}},
{"mark":{"type":"text","text":"1.20903","fontSize":8,"color":"white","align":"left","baseline":"middle"},"encoding":{"x":{"datum":240.75,"type":"quantitative"},"y":{"datum":1.20905,"type":"quantitative"}}}
]
},
{
"width":854,"height":95,
"data":{"values":[{}]},
"layer":[
{"data":{"name":"macd"},"mark":{"type":"rule","color":"#b9b9b9","strokeWidth":1,"clip":true},"encoding":{"x":{"field":"i","type":"quantitative","scale":{"domain":[-16.12,238.8],"nice":false,"zero":false},"title":null,"axis":{"orient":"bottom","values":[-16,0,16,32,48,64,80,96,112,128,144,160,176],"tickCount":40,"labelExpr":"['8 Feb 2021','9 Feb 12:00','10 Feb 04:00','10 Feb 20:00','11 Feb 12:00','12 Feb 04:00','12 Feb 20:00','15 Feb 12:00','16 Feb 04:00','16 Feb 20:00','17 Feb 12:00','18 Feb 04:00','18 Feb 20:00'][(datum.value+16)/16]","labelAlign":"left","labelOffset":2,"labelPadding":1,"tickSize":4,"labelFlush":false,"labelOverlap":false,"labelBound":false}},"y":{"field":"m","type":"quantitative","scale":{"domain":[-0.002475,0.002228],"nice":false,"zero":false},"title":null,"axis":{"orient":"right","values":[0.001929,0,-0.002225],"tickCount":10,"labelExpr":"datum.value > 0.001 ? '0.001929' : (datum.value < -0.001 ? '-0.002225' : '0.00')","tickSize":3,"labelPadding":1,"labelFontSize":7.5,"labelOverlap":false,"labelFlush":false}},"y2":{"datum":0}}},
{"data":{"name":"signal"},"mark":{"type":"line","color":"#d21c1c","strokeWidth":1.1,"strokeDash":[2,2],"clip":true},"encoding":{"x":{"field":"i","type":"quantitative","scale":{"domain":[-16.12,238.8],"nice":false,"zero":false},"title":null},"y":{"field":"s","type":"quantitative","scale":{"domain":[-0.002475,0.002228],"nice":false,"zero":false},"title":null}}},
{"mark":{"type":"text","text":"MACD(12,26,9) 0.000709 0.000768","fontSize":8,"color":"black","align":"left","baseline":"middle"},"encoding":{"x":{"datum":-14.9,"type":"quantitative"},"y":{"datum":0.00188,"type":"quantitative"}}}
]
}
]
}
